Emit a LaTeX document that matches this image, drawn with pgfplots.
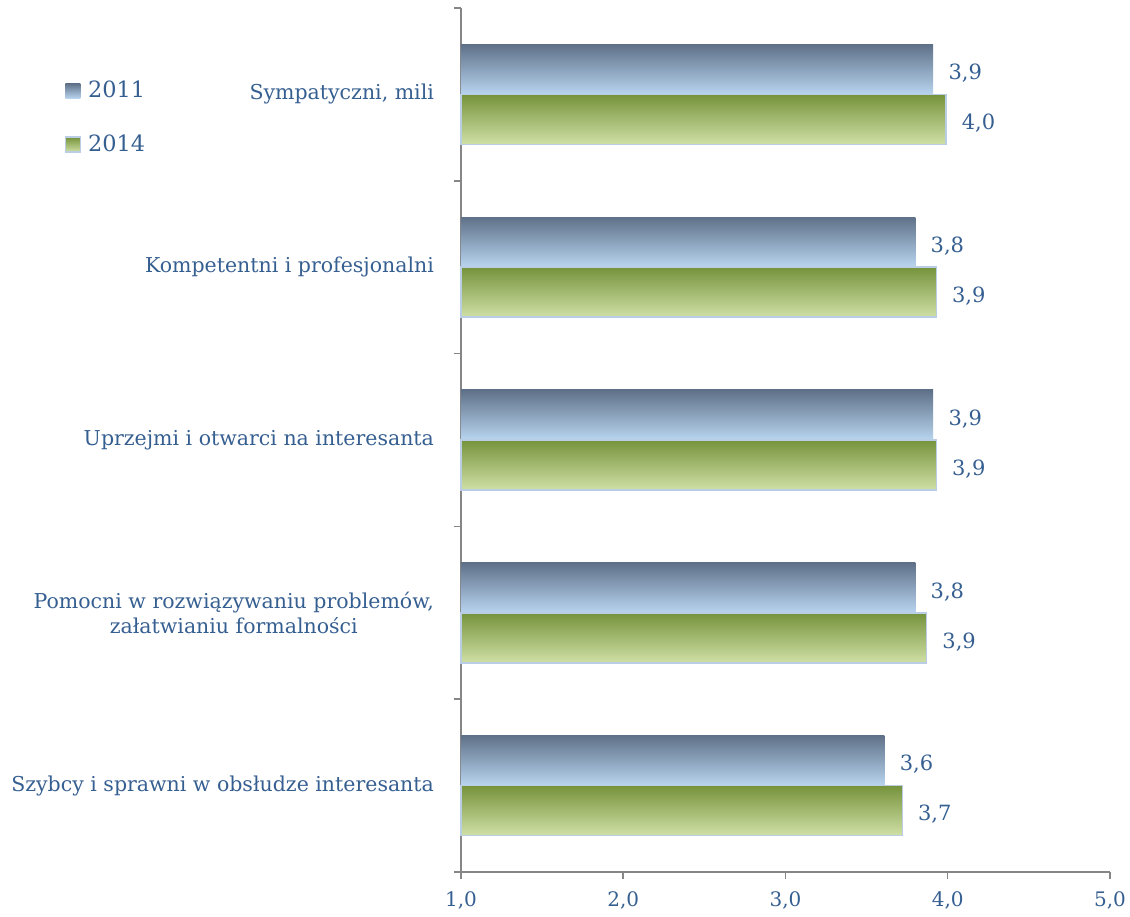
\documentclass[border=0pt]{standalone}
\usepackage{pgfplots}
\pgfplotsset{compat=1.18}
\usepackage{fontspec}
\setmainfont{DejaVu Serif}
\definecolor{txt}{HTML}{365F91}
\definecolor{axgray}{HTML}{868686}
\definecolor{bTop}{HTML}{5F7189}
\definecolor{bBot}{HTML}{B9D5F0}
\definecolor{gTop}{HTML}{76933C}
\definecolor{gBot}{HTML}{D0E0A6}
\definecolor{gEdge}{HTML}{B9CDE5}

\pgfplotsset{
  sA/.style={xbar, bar width=25pt, bar shift=12.5pt, top color=bTop, bottom color=bBot, draw=none,
    every node near coord/.append style={yshift=10.5pt}},
  sB/.style={xbar, bar width=25pt, bar shift=-12.5pt, top color=gTop, bottom color=gBot, draw=gEdge, line width=0.75pt,
    every node near coord/.append style={yshift=-14.5pt}},
}

\begin{document}
\begin{tikzpicture}
\begin{axis}[
  name=ax,
  scale only axis, width=324.5pt, height=432pt,
  xmin=1, xmax=5, ymin=0.5, ymax=5.5,
  axis x line*=bottom, axis y line*=left,
  axis line style={axgray, line width=0.75pt, -},
  tick style={axgray, line width=0.75pt},
  tick align=outside, major tick length=3.5pt,
  xtick={1,2,3,4,5},
  /pgf/number format/assume math mode=true,
  xticklabel={\pgfmathprintnumber[fixed,fixed zerofill,precision=1,use comma]{\tick}},
  xticklabel style={font=\fontsize{10}{12}\selectfont, text=txt, yshift=-3pt},
  ytick={0.5,1.5,2.5,3.5,4.5,5.5},
  yticklabels={},
  extra y ticks={1,2,3,4,5},
  extra y tick labels={Szybcy i sprawni w obsłudze interesanta,{Pomocni w rozwiązywaniu problemów,\\załatwianiu formalności},Uprzejmi i otwarci na interesanta,Kompetentni i profesjonalni,{Sympatyczni, mili}},
  extra y tick style={major tick length=0pt, yticklabel style={align=center, font=\fontsize{10.25}{12.5}\selectfont, text=txt, xshift=-10pt}},
  clip=false,
  legend style={draw=none, fill=none, at={(-0.6205,0.925)}, anchor=north west,
    font=\fontsize{11.2}{13}\selectfont, text=txt, row sep=13pt,
    nodes={inner xsep=3.5pt}},
  legend cell align=left,
  nodes near coords={\pgfmathprintnumber[fixed,fixed zerofill,precision=1,use comma]{\pgfplotspointmeta}},
  nodes near coords align={horizontal},
  every node near coord/.append style={font=\fontsize{10.5}{12}\selectfont, text=txt, anchor=west, inner sep=0pt, xshift=7.5pt},
  point meta=x,
]
\addplot[sA, legend image code/.code={\path[top color=bTop,bottom color=bBot] (0pt,-3.75pt) rectangle (7.5pt,3.75pt);}]
  coordinates {(3.91,5)};
\addlegendentry{2011}
\addplot[sB, legend image code/.code={\path[top color=gTop,bottom color=gBot, draw=gEdge, line width=0.75pt] (0pt,-3.75pt) rectangle (7.5pt,3.75pt);}]
  coordinates {(3.99,5)};
\addlegendentry{2014}
\addplot[sA, forget plot] coordinates {(3.80,4)};
\addplot[sB, forget plot] coordinates {(3.93,4)};
\addplot[sA, forget plot] coordinates {(3.91,3)};
\addplot[sB, forget plot] coordinates {(3.93,3)};
\addplot[sA, forget plot] coordinates {(3.80,2)};
\addplot[sB, forget plot] coordinates {(3.87,2)};
\addplot[sA, forget plot] coordinates {(3.61,1)};
\addplot[sB, forget plot] coordinates {(3.72,1)};
\end{axis}
\pgfresetboundingbox
\path (ax.south west) ++(-230.5pt,-22pt) rectangle ++(565pt,458pt);
\end{tikzpicture}
\end{document}
